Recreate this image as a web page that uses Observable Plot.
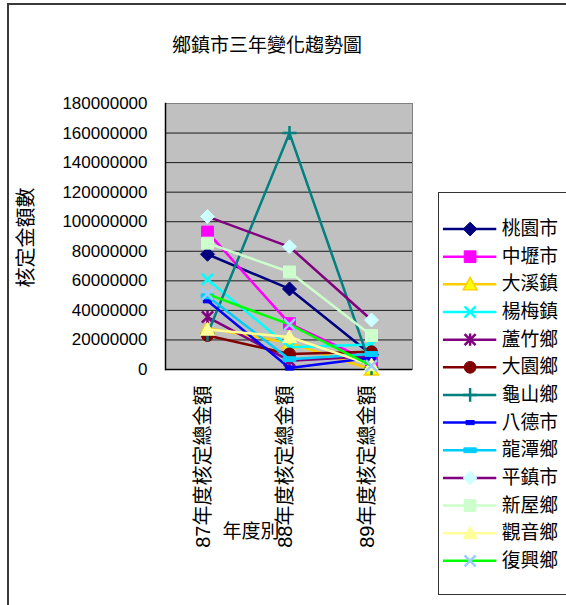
<!DOCTYPE html>
<html><head><meta charset="utf-8">
<script src="https://cdn.jsdelivr.net/npm/d3@7"></script>
<script src="https://cdn.jsdelivr.net/npm/@observablehq/plot@0.6"></script>
<style>
html,body{margin:0;padding:0;background:#fff;overflow:hidden;}
#wrap{position:relative;width:566px;height:605px;overflow:hidden;font-family:"Liberation Sans","Noto Sans CJK TC",sans-serif;}
#border{position:absolute;left:7px;top:3px;width:620px;height:640px;border:2px solid #3a3a3a;box-sizing:border-box;}
#chart{position:absolute;left:0;top:0;}
#legend{position:absolute;left:438px;top:192px;width:160px;height:403px;border:1px solid #333;box-sizing:border-box;background:#fff;}
#legend svg{position:absolute;left:0;top:0;}
</style>
</head><body>
<div id="wrap"><div id="border"></div><div id="chart"></div><div id="legend"></div></div>
<script>
// ---- data ----
const title = "鄉鎮市三年變化趨勢圖";
const yTitle = "核定金額數";
const xTitle = "年度別";
const categories = ["87年度核定總金額", "88年度核定總金額", "89年度核定總金額"];
const series = ["桃園市","中壢市","大溪鎮","楊梅鎮","蘆竹鄉","大園鄉","龜山鄉","八德市","龍潭鄉","平鎮市","新屋鄉","觀音鄉","復興鄉"];
const v桃園市 = [78000000, 54500000, 10000000];
const v中壢市 = [93000000, 31000000, 5000000];
const v大溪鎮 = [28000000, 18000000, 0];
const v楊梅鎮 = [61000000, 15000000, 17000000];
const v蘆竹鄉 = [35500000, 6000000, 9000000];
const v大園鄉 = [23000000, 10500000, 12000000];
const v龜山鄉 = [24000000, 160000000, 1000000];
const v八德市 = [46500000, 1000000, 8000000];
const v龍潭鄉 = [49500000, 7000000, 10500000];
const v平鎮市 = [103500000, 83000000, 33500000];
const v新屋鄉 = [85500000, 66000000, 23000000];
const v觀音鄉 = [27000000, 22000000, 3000000];
const v復興鄉 = [51000000, 30500000, 2500000];
const yTicks = [0,20000000,40000000,60000000,80000000,100000000,120000000,140000000,160000000,180000000];
const values = [v桃園市,v中壢市,v大溪鎮,v楊梅鎮,v蘆竹鄉,v大園鄉,v龜山鄉,v八德市,v龍潭鄉,v平鎮市,v新屋鄉,v觀音鄉,v復興鄉];

// ---- styles ----
const lineColors = ["#000080","#FF00FF","#FFCC00","#00FFFF","#800080","#800000","#008080","#0000FF","#00CCFF","#800080","#CCFFCC","#FFFF99","#00FF00"];
const markFill   = ["#000080","#FF00FF","#FFFF00","none","none","#800000","none","#0000FF","#00CCFF","#CCFFFF","#CCFFCC","#FFFF99","none"];
const markStroke = ["#000080","#FF00FF","#FFCC00","#00FFFF","#800080","#800000","#008080","#0000FF","#00CCFF","#CCFFFF","#CCFFCC","#FFFF99","#99CCFF"];
const sym = {
  diamond:{draw(c,s){const r=Math.sqrt(s/Math.PI);c.moveTo(0,-r);c.lineTo(r,0);c.lineTo(0,r);c.lineTo(-r,0);c.closePath();}},
  square:{draw(c,s){const r=Math.sqrt(s/Math.PI)*0.85;c.rect(-r,-r,2*r,2*r);}},
  triangle:{draw(c,s){const r=Math.sqrt(s/Math.PI);c.moveTo(0,-r);c.lineTo(r,r*0.8);c.lineTo(-r,r*0.8);c.closePath();}},
  times:{draw(c,s){const r=Math.sqrt(s/Math.PI)*0.8;c.moveTo(-r,-r);c.lineTo(r,r);c.moveTo(r,-r);c.lineTo(-r,r);}},
  star:{draw(c,s){const r=Math.sqrt(s/Math.PI)*0.8;c.moveTo(-r,-r);c.lineTo(r,r);c.moveTo(r,-r);c.lineTo(-r,r);c.moveTo(0,-r*1.1);c.lineTo(0,r*1.1);}},
  circle:{draw(c,s){const r=Math.sqrt(s/Math.PI)*0.85;c.moveTo(r,0);c.arc(0,0,r,0,2*Math.PI);}},
  plus:{draw(c,s){const r=Math.sqrt(s/Math.PI);c.moveTo(-r,0);c.lineTo(r,0);c.moveTo(0,-r);c.lineTo(0,r);}},
  dashS:{draw(c,s){const r=Math.sqrt(s/Math.PI);c.rect(-r*0.6,-r*0.3,r*1.2,r*0.6);}},
  dashL:{draw(c,s){const r=Math.sqrt(s/Math.PI);c.rect(-r*0.9,-r*0.35,r*1.8,r*0.7);}}
};
const markSymbols = [sym.diamond,sym.square,sym.triangle,sym.times,sym.star,sym.circle,sym.plus,sym.dashS,sym.dashL,sym.diamond,sym.square,sym.triangle,sym.times];
const markStrokeW = [1,1,1.5,2.5,2.5,1,2.5,1,1,1,1,1,2.5];

const rows = series.flatMap((s,i) => categories.map((c,j) => ({series:s, cat:c, value:values[i][j]})));
const font = '"Liberation Sans","Noto Sans CJK TC",sans-serif';

const seriesMarks = series.flatMap((s,i) => {
  const d = rows.filter(r => r.series === s);
  return [
    Plot.line(d, {x:"cat", y:"value", stroke:lineColors[i], strokeWidth:2.5}),
    Plot.dot(d, {x:"cat", y:"value", symbol:markSymbols[i], r:7, fill:markFill[i], stroke:markStroke[i], strokeWidth:markStrokeW[i]})
  ];
});

const chart = Plot.plot({
  width:566, height:605,
  marginLeft:165, marginRight:154, marginTop:103, marginBottom:236,
  style:{fontFamily:font, background:"transparent", overflow:"visible"},
  x:{type:"point", domain:categories, padding:0.5},
  y:{domain:[0,180000000]},
  marks:[
    Plot.frame({fill:"#C0C0C0"}),
    Plot.gridY(yTicks, {stroke:"#1a1a1a", strokeOpacity:1, strokeWidth:1}),
    Plot.frame({stroke:"#808080"}),
    Plot.ruleY([0], {stroke:"#000", strokeWidth:1.5}),
    Plot.frame({anchor:"left", stroke:"#000", strokeWidth:1.5}),
    Plot.axisY(yTicks, {tickSize:0, tickPadding:18, fontSize:17, fill:"#000", tickFormat:d3.format("d"), label:null}),
    Plot.axisX({tickSize:0, tickPadding:16, tickRotate:-90, fontSize:20, fill:"#000", label:null, dx:-4}),
    ...seriesMarks,
    Plot.text([title], {frameAnchor:"top", dx:-22, dy:-65, fontSize:19, fill:"#000"}),
    Plot.text([yTitle], {frameAnchor:"left", textAnchor:"middle", dx:-139, dy:1, rotate:-90, fontSize:20, fill:"#000"}),
    Plot.text([xTitle], {frameAnchor:"bottom", dx:-38, dy:168, fontSize:19, fill:"#000"})
  ]
});
document.getElementById("chart").appendChild(chart);

const legend = Plot.plot({
  width:160, height:401, margin:0,
  style:{fontFamily:font, background:"transparent"},
  x:{domain:[0,160], range:[0,160], axis:null},
  y:{type:"point", domain:series, range:[21,386], axis:null},
  marks:[
    ...series.flatMap((s,i) => [
      Plot.ruleY([s], {x1:4, x2:58, stroke:lineColors[i], strokeWidth:2.5}),
      Plot.dot([s], {x:31, y:d=>d, symbol:markSymbols[i], r:7, fill:markFill[i], stroke:markStroke[i], strokeWidth:markStrokeW[i]})
    ]),
    Plot.text(series, {x:63, y:d=>d, textAnchor:"start", fontSize:19, fill:"#000"})
  ]
});
document.getElementById("legend").appendChild(legend);
</script>
</body></html>
